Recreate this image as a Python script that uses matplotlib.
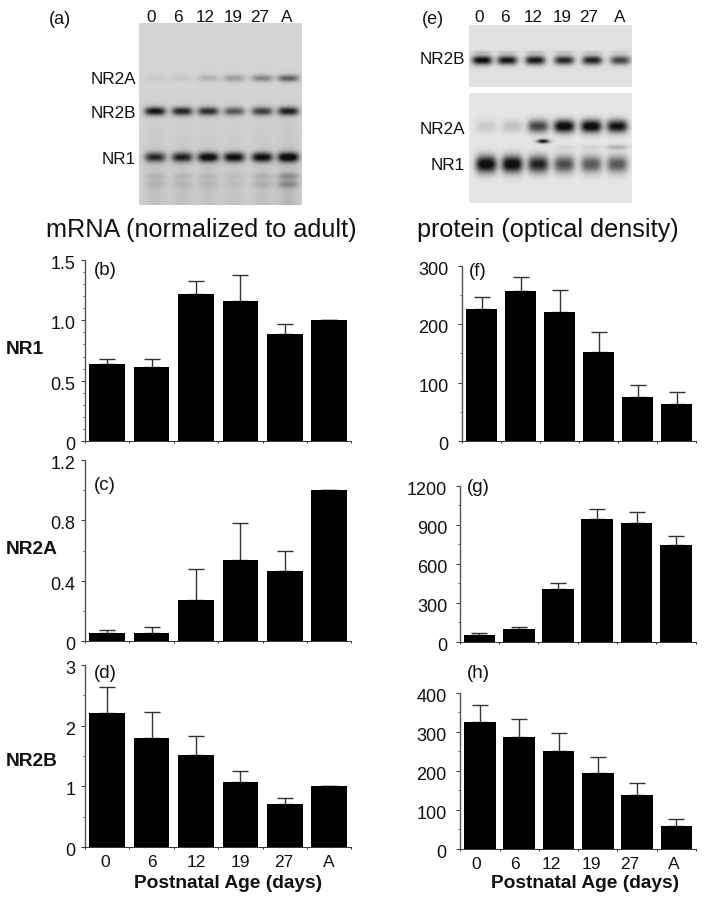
import numpy as np
import matplotlib
matplotlib.use("Agg")
import matplotlib.pyplot as plt
from matplotlib.ticker import MultipleLocator, NullFormatter, FixedLocator, FixedFormatter
from matplotlib.transforms import ScaledTranslation

plt.rcParams['font.family'] = ['Liberation Sans', 'DejaVu Sans']
W, H = 706, 899
ages = ['0', '6', '12', '19', '27', 'A']

nr1_mrna = [0.64, 0.614, 1.22, 1.16, 0.888, 1.0]
nr1_mrna_err = [0.043, 0.069, 0.106, 0.213, 0.081, 0.0]
nr2a_mrna = [0.05, 0.05, 0.272, 0.54, 0.462, 1.0]
nr2a_mrna_err = [0.023, 0.045, 0.203, 0.245, 0.138, 0.0]
nr2b_mrna = [2.21, 1.80, 1.52, 1.07, 0.71, 1.0]
nr2b_mrna_err = [0.43, 0.42, 0.31, 0.185, 0.09, 0.0]
nr1_prot = [226, 257, 220, 153, 76, 64]
nr1_prot_err = [20, 23, 38, 33, 20, 20]
nr2a_prot = [54, 95, 403, 944, 915, 744]
nr2a_prot_err = [15, 15, 51, 79, 80, 69]
nr2b_prot = [324, 287, 252, 194, 139, 59]
nr2b_prot_err = [45, 45, 45, 41, 31, 17]

# relative band darkness per lane
gel_nr2a = [0.05, 0.06, 0.16, 0.26, 0.38, 0.55]
gel_nr2b = [0.92, 0.82, 0.78, 0.58, 0.70, 0.85]
gel_nr1 = [0.78, 0.82, 0.98, 0.95, 0.95, 1.05]
gel_low = [0.09, 0.08, 0.07, 0.05, 0.10, 0.25]
wb_nr2b = [1.00, 0.92, 0.92, 0.85, 0.88, 0.70]
wb_nr2b_upper = [0.15, 0.12, 0.15, 0.12, 0.12, 0.08]
wb_nr2a = [0.12, 0.16, 0.72, 1.05, 1.05, 0.95]
wb_nr2a_faint = [0.0, 0.0, 0.0, 0.06, 0.08, 0.22]
wb_nr1 = [1.05, 1.05, 0.88, 0.68, 0.62, 0.62]

fig = plt.figure(figsize=(W / 100, H / 100), dpi=100, facecolor='white')


def px_axes(x0, y_top, x1, y_bot):
    return fig.add_axes([x0 / W, 1 - y_bot / H, (x1 - x0) / W, (y_bot - y_top) / H])


def label(x, y, s, size=12, ha='center', weight='normal', color='#111111'):
    fig.text(x / W, 1 - y / H, s, fontsize=size, ha=ha, va='center',
             fontweight=weight, color=color)


def blot(x0, y0, x1, y1, lanes, bands, bg, half, smear=0.0, spot=None):
    ax = px_axes(x0, y0, x1, y1)
    xs = np.arange(x0, x1, 0.5)
    ys = np.arange(y0, y1, 0.5)
    X, Y = np.meshgrid(xs, ys)
    dark = np.zeros_like(X)
    for yc, sig, vals in bands:
        for lx, v in zip(lanes, vals):
            dark += v * np.exp(-np.abs((X - lx) / half) ** 3.5) * np.exp(-((Y - yc) / sig) ** 2)
    if smear:
        for lx, v in zip(lanes, bands[-1][2]):
            dark += smear * (0.5 + 2 * v) * np.exp(-((X - lx) / (half * 1.1)) ** 2) * \
                np.clip((Y - y0 - 0.35 * (y1 - y0)) / (y1 - y0), 0, 1)
    if spot:
        sx, sy, wx, wy, v = spot
        dark += v * np.exp(-((X - sx) / wx) ** 2) * np.exp(-((Y - sy) / wy) ** 2)
    img = np.clip(bg - dark * bg, 0.06, 1)
    ax.imshow(img, cmap='gray', vmin=0, vmax=1, extent=[x0, x1, y1, y0],
              aspect='auto', interpolation='bilinear')
    ax.axis('off')


blot(139, 23, 302, 205, [155, 182, 208, 234, 262, 288],
     [(78, 3.5, gel_nr2a), (111, 4.2, gel_nr2b), (157, 4.8, gel_nr1),
      (176, 3.5, gel_low), (184, 4, gel_low)], 0.83, 10.5, smear=0.22)
blot(469, 25, 632, 87, [482, 507, 535, 564, 592, 620],
     [(60, 4.5, wb_nr2b), (52, 1.5, wb_nr2b_upper)], 0.88, 10)
blot(469, 93, 632, 203, [486, 512, 538, 564, 591, 617],
     [(126, 6.5, wb_nr2a), (147, 2.5, wb_nr2a_faint), (164, 8.5, wb_nr1)], 0.90, 10.5,
     spot=(543, 141, 6, 2, 1.0))

label(59.5, 19, '(a)', 13)
for xp, s in zip([151, 178, 205, 233, 260, 287], ages):
    label(xp, 17, s, 12.3)
for yp, s in zip([79, 113, 160], ['NR2A', 'NR2B', 'NR1']):
    label(136, yp, s, 12.3, ha='right')
label(433, 20, '(e)', 13)
for xp, s in zip([479, 505, 533, 562, 589, 620], ages):
    label(xp, 17, s, 12.3)
for yp, s in zip([60, 129, 166], ['NR2B', 'NR2A', 'NR1']):
    label(465, yp, s, 12.3, ha='right')

label(201, 230, 'mRNA (normalized to adult)', 18.2)
label(548, 230, 'protein (optical density)', 18.2)
for yp, s in zip([349, 549, 762], ['NR1', 'NR2A', 'NR2B']):
    label(6, yp, s, 13.8, ha='left', weight='bold')

panels = [
    (85, 260, 351.4, 441, nr1_mrna, nr1_mrna_err, 1.5, [0, 0.5, 1.0, 1.5], ['0', '0.5', '1.0', '1.5'], 0.1, '(b)', 105, 270, 4, None),
    (85, 460, 351.4, 641, nr2a_mrna, nr2a_mrna_err, 1.2, [0, 0.4, 0.8, 1.2], ['0', '0.4', '0.8', '1.2'], 0.2, '(c)', 105, 486, 4, None),
    (85, 665, 351.4, 847, nr2b_mrna, nr2b_mrna_err, 3, [0, 1, 2, 3], ['0', '1', '2', '3'], 0.5, '(d)', 105, 673, 4, [105, 152, 196, 240, 284, 329]),
    (462.3, 265.7, 696, 441, nr1_prot, nr1_prot_err, 300, [0, 100, 200, 300], ['0', '100', '200', '300'], 50, '(f)', 478, 271, 7, None),
    (459.8, 485.7, 695.5, 641.7, nr2a_prot, nr2a_prot_err, 1200, [0, 300, 600, 900, 1200], ['0', '300', '600', '900', '1200'], 150, '(g)', 478, 487, 6, None),
    (460.3, 692.7, 696, 849, nr2b_prot, nr2b_prot_err, 400, [0, 100, 200, 300, 400], ['0', '100', '200', '300', '400'], 50, '(h)', 478, 674, 7, [476, 515, 551, 591, 630, 674]),
]

for i, (x0, yt, x1, yb, vals, errs, ymax, ticks, tl, minor, tag, tx, ty, pad, xlab) in enumerate(panels):
    ax = px_axes(x0, yt, x1, yb)
    ax.patch.set_alpha(0)
    pos = np.arange(6) + 0.5
    ax.errorbar(pos, vals, yerr=[np.zeros(6), errs], fmt='none', ecolor='#333333',
                elinewidth=1.0, capsize=6.0, capthick=1.0, zorder=2)
    ax.bar(pos, vals, width=0.805, color='black', zorder=3)
    ax.set_xlim(0, 6)
    ax.set_ylim(0, ymax)
    for s in ('top', 'right'):
        ax.spines[s].set_visible(False)
    ax.spines['left'].set_linewidth(1.0)
    ax.spines['left'].set_color('#555555')
    ax.spines['bottom'].set_linewidth(0.7)
    ax.spines['bottom'].set_color('#333333')
    ax.set_yticks(ticks)
    ax.set_yticklabels(tl, fontsize=13, color='#111111')
    ax.yaxis.set_minor_locator(MultipleLocator(minor))
    ax.yaxis.set_minor_formatter(NullFormatter())
    ax.tick_params(axis='y', which='major', length=3, width=0.7, color='#333333', pad=pad)
    ax.tick_params(axis='y', which='minor', length=1.3, width=0.7, color='#555555')
    shift = ScaledTranslation(0, -2.5 / 100, fig.dpi_scale_trans)
    for tick in ax.yaxis.get_major_ticks():
        tick.label1.set_transform(tick.label1.get_transform() + shift)
    ax.xaxis.set_major_locator(FixedLocator(np.arange(7)))
    ax.xaxis.set_major_formatter(NullFormatter())
    ax.tick_params(axis='x', which='major', length=1.5, width=0.7, color='#333333')
    if xlab:
        data_pos = [(p - x0) / (x1 - x0) * 6 for p in xlab]
        ax.xaxis.set_minor_locator(FixedLocator(data_pos))
        ax.xaxis.set_minor_formatter(FixedFormatter(ages))
        ax.tick_params(axis='x', which='minor', length=0, labelsize=12.5, pad=6,
                       labelcolor='#111111')
    label(tx, ty, tag, 13.5)

label(228, 883, 'Postnatal Age (days)', 13.8, weight='bold')
label(585.5, 883, 'Postnatal Age (days)', 13.8, weight='bold')

fig.savefig('out.png', dpi=100)
